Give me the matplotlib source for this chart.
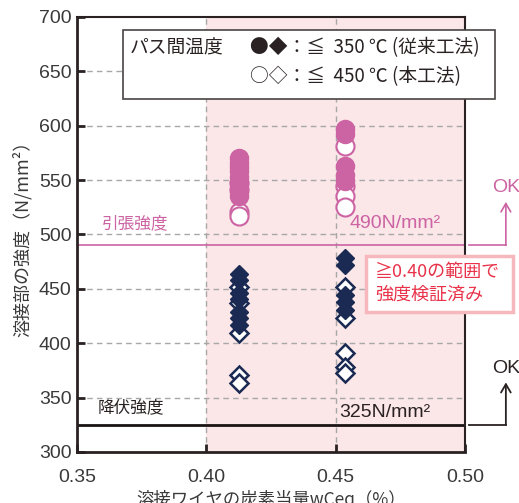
import matplotlib
matplotlib.use("Agg")
import matplotlib.pyplot as plt
from matplotlib.patches import Rectangle

plt.rcParams['font.family'] = ['Noto Sans CJK JP', 'DejaVu Sans']

# ---- data ----
x_left = 0.4125
x_right = 0.4535

# tensile strength (circles)
tensile_350_left = [570, 566, 562, 558, 553, 548, 543, 535]
tensile_450_left = [547, 541, 521, 517]
tensile_350_right = [597, 592, 563, 555, 549]
tensile_450_right = [581, 545, 535, 525]

# yield-side / diamonds
dia_350_left = [464, 458, 446, 441, 429, 423, 417]
dia_450_left = [452, 437, 409, 371, 363]
dia_350_right = [478, 472, 444, 438, 431]
dia_450_right = [452, 423, 391, 378, 373]

xticks = [0.35, 0.40, 0.45, 0.50]
xtick_labels = ["0.35", "0.40", "0.45", "0.50"]
yticks = [300, 350, 400, 450, 500, 550, 600, 650, 700]

tensile_req = 490
yield_req = 325

pink = "#cc63a3"
navy = "#1a2a52"
shade = "#fbe6e8"
red = "#e8334a"
latin = ['Liberation Sans', 'DejaVu Sans']

fig = plt.figure(figsize=(5.19, 5.03), dpi=100)
ax = fig.add_axes([77/519, 1-452/503, (465-77)/519, (452-17)/503])
ax.set_xlim(0.35, 0.50)
ax.set_ylim(300, 700)

ax.axvspan(0.40, 0.50, color=shade, zorder=0, lw=0)

for y in yticks[1:-1]:
    ax.axhline(y, color="#a8a8a8", lw=1.0, ls=(0, (4, 3)), zorder=1)
for x in [0.40, 0.45]:
    ax.axvline(x, color="#a8a8a8", lw=1.0, ls=(0, (4, 3)), zorder=1)

# requirement lines
ax.plot([0.35, 0.50], [tensile_req, tensile_req], color=pink, lw=1.2, zorder=2)
ax.plot([0.35, 0.50], [yield_req, yield_req], color="#1a1414", lw=2.0, zorder=2)

msz_c = 13
msz_d = 9.5
# open markers first, filled on top
ax.plot([x_left]*len(tensile_450_left), tensile_450_left, 'o', ms=msz_c, mfc='white', mec=pink, mew=1.5, ls='none', zorder=3)
ax.plot([x_right]*len(tensile_450_right), tensile_450_right, 'o', ms=msz_c, mfc='white', mec=pink, mew=1.5, ls='none', zorder=3)
ax.plot([x_left]*len(tensile_350_left), tensile_350_left, 'o', ms=msz_c, mfc=pink, mec=pink, mew=1.0, ls='none', zorder=4)
ax.plot([x_right]*len(tensile_350_right), tensile_350_right, 'o', ms=msz_c, mfc=pink, mec=pink, mew=1.0, ls='none', zorder=4)

ax.plot([x_left]*len(dia_450_left), dia_450_left, 'D', ms=msz_d, mfc='white', mec=navy, mew=1.8, ls='none', zorder=3)
ax.plot([x_right]*len(dia_450_right), dia_450_right, 'D', ms=msz_d, mfc='white', mec=navy, mew=1.8, ls='none', zorder=3)
ax.plot([x_left]*len(dia_350_left), dia_350_left, 'D', ms=msz_d, mfc=navy, mec=navy, mew=1.0, ls='none', zorder=4)
ax.plot([x_right]*len(dia_350_right), dia_350_right, 'D', ms=msz_d, mfc=navy, mec=navy, mew=1.0, ls='none', zorder=4)

# spines and ticks
for s in ["left", "bottom"]:
    ax.spines[s].set_linewidth(2.0)
    ax.spines[s].set_color("#2a2222")
for s in ["top", "right"]:
    ax.spines[s].set_linewidth(1.5)
    ax.spines[s].set_color("#2a2222")
ax.set_xticks(xticks)
ax.set_xticklabels(xtick_labels)
ax.set_yticks(yticks)
ax.tick_params(direction="in", length=6, width=2, color="#2a2222", labelcolor="#3a3a3a",
               labelsize=14, pad=4)
for lab in ax.get_xticklabels() + ax.get_yticklabels():
    lab.set_family(latin)
ax.tick_params(axis='x', pad=12)

ax.set_xlabel("溶接ワイヤの炭素当量wCeq（%）", fontsize=12.5, color="#3a3a3a")
ax.xaxis.set_label_coords(0.5, -(490 - 452) / 435)
ax.set_ylabel("溶接部の強度（N/mm²）", fontsize=13, color="#3a3a3a", labelpad=5)

# annotations in axes
ax.text(0.3596, 510, "引張強度", color=pink, fontsize=12, va="center", ha="left")
ax.text(0.4553, 510, "490N/mm²", color=pink, fontsize=14, va="center", ha="left", family=latin)
ax.text(0.358, 341, "降伏強度", color="#2a2222", fontsize=12, va="center", ha="left")
ax.text(0.4514, 336, "325N/mm²", color="#2a2222", fontsize=14, va="center", ha="left", family=latin)

# lines extending outside with arrows
xo1, xo2 = 0.5015, 0.5158
ax.plot([xo1, xo2], [tensile_req, tensile_req], color=pink, lw=1.2, clip_on=False)
ax.annotate("", xy=(xo2, 530), xytext=(xo2, tensile_req), xycoords='data',
            arrowprops=dict(arrowstyle="->,head_length=0.6,head_width=0.35", color=pink, lw=1.2,
                            shrinkA=0, shrinkB=0), annotation_clip=False)
ax.text(xo2, 543, "OK", color=pink, fontsize=14, ha="center", va="center", family=latin, clip_on=False)

ax.plot([xo1, xo2], [yield_req, yield_req], color="#2a2222", lw=1.3, clip_on=False)
ax.annotate("", xy=(xo2, 364), xytext=(xo2, yield_req), xycoords='data',
            arrowprops=dict(arrowstyle="->,head_length=0.6,head_width=0.35", color="#2a2222", lw=1.3,
                            shrinkA=0, shrinkB=0), annotation_clip=False)
ax.text(xo2, 377, "OK", color="#2a2222", fontsize=14, ha="center", va="center", family=latin, clip_on=False)

# legend-like box (figure pixel coords)
def fx(px):
    return px / 519
def fy(py):
    return 1 - py / 503

fig.patches.append(Rectangle((fx(123), fy(99)), fx(495) - fx(123), fy(30) - fy(99),
                             transform=fig.transFigure, facecolor="white", edgecolor="#4a4444",
                             lw=1.2, zorder=10))
fig.text(fx(130), fy(48), "パス間温度", fontsize=13.5, color="#2a2222", va="center", ha="left", zorder=11)
fig.text(fx(250), fy(48), "●◆：≦  350 ℃ (従来工法)", fontsize=13.5, color="#2a2222", va="center", ha="left", zorder=11)
fig.text(fx(250), fy(77), "○◇：≦  450 ℃ (本工法)", fontsize=13.5, color="#2a2222", va="center", ha="left", zorder=11)

# note box
fig.patches.append(Rectangle((fx(366), fy(312)), fx(513) - fx(366), fy(256) - fy(312),
                             transform=fig.transFigure, facecolor="white", edgecolor="#f6b8bd",
                             lw=2.5, zorder=10))
fig.text(fx(375), fy(272), "≧0.40の範囲で", fontsize=13, color=red, va="center", ha="left", zorder=11)
fig.text(fx(375), fy(295), "強度検証済み", fontsize=13, color=red, va="center", ha="left", zorder=11)

fig.savefig("out.png", dpi=100)
